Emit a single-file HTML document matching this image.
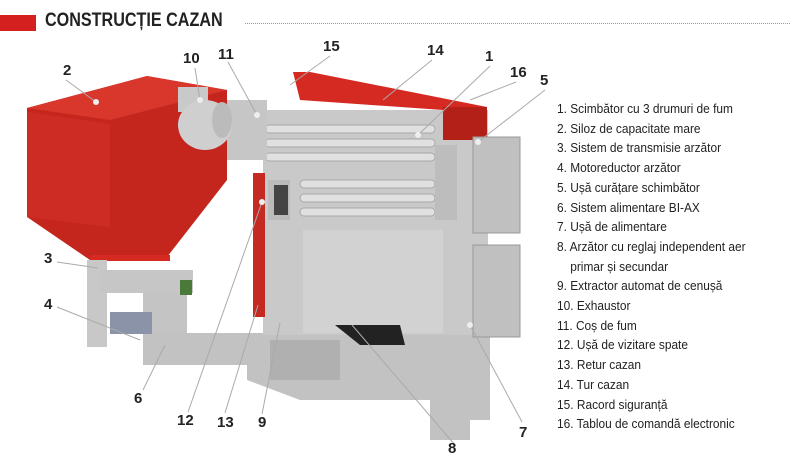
<!DOCTYPE html>
<html><head><meta charset="utf-8"><style>
body{margin:0;width:800px;height:449px;background:#fff;overflow:hidden;position:relative;font-family:"Liberation Sans",sans-serif}
.t{position:absolute;left:45px;top:10px;font-weight:bold;font-size:19px;color:#222;transform:scaleX(.85);transform-origin:left}
.list{position:absolute;left:557px;top:99px;font-size:12.8px;line-height:19.7px;color:#222;transform:scaleX(.93);transform-origin:left}
.n{position:absolute;font-weight:bold;font-size:15px;color:#222}
</style></head><body>
<div style="position:absolute;left:0;top:15px;width:36px;height:16px;background:#d52020"></div>
<div class="t">CONSTRUCȚIE CAZAN</div>
<div style="position:absolute;left:245px;top:23px;width:545px;border-top:1px dotted #999"></div>
<svg width="800" height="449" style="position:absolute;left:0;top:0">
<!-- boiler base -->
<polygon points="247,335 490,335 490,420 470,420 470,440 430,440 430,400 300,400 247,380" fill="#c2c2c2"/>
<!-- boiler body -->
<rect x="263" y="110" width="225" height="225" fill="#c9c9c9"/>
<polygon points="293,72 310,72 487,107 487,140 443,140 443,110 300,100" fill="#d42a22"/>
<polygon points="443,107 487,107 487,140 443,140" fill="#b32018"/>
<rect x="253" y="173" width="12" height="144" fill="#c42a22"/>
<rect x="268" y="180" width="22" height="40" fill="#bbb"/>
<rect x="274" y="185" width="14" height="30" fill="#444"/>
<rect x="303" y="230" width="140" height="103" fill="#d2d2d2"/>
<g fill="#e0e0e0" stroke="#a8a8a8">
<rect x="265" y="125" width="170" height="8" rx="4"/>
<rect x="265" y="139" width="170" height="8" rx="4"/>
<rect x="265" y="153" width="170" height="8" rx="4"/>
<rect x="300" y="180" width="135" height="8" rx="4"/>
<rect x="300" y="194" width="135" height="8" rx="4"/>
<rect x="300" y="208" width="135" height="8" rx="4"/>
</g>
<rect x="435" y="145" width="22" height="75" fill="#bdbdbd"/>
<rect x="473" y="137" width="47" height="96" fill="#c0c0c0" stroke="#999"/>
<rect x="473" y="245" width="47" height="92" fill="#c0c0c0" stroke="#999"/>
<rect x="270" y="340" width="70" height="40" fill="#b0b0b0"/>
<polygon points="335,325 400,325 405,345 360,345" fill="#222"/>
<!-- flue -->
<polygon points="227,100 267,100 267,160 227,160" fill="#c6c6c6"/>
<!-- hopper -->
<polygon points="27,108 147,76 227,90 227,180 167,257 90,260 27,217" fill="#c4261e"/>
<polygon points="27,108 147,76 227,90 110,120" fill="#d9362c"/>
<polygon points="27,112 110,124 110,227 27,217" fill="#cc2c24"/>
<rect x="90" y="255" width="80" height="6" fill="#d42a22"/>
<!-- exhaust -->
<rect x="178" y="87" width="30" height="25" fill="#c9c9c9"/>
<ellipse cx="205" cy="125" rx="27" ry="25" fill="#cfcfcf"/>
<ellipse cx="222" cy="120" rx="10" ry="18" fill="#bbb"/>
<!-- feeder -->
<rect x="87" y="260" width="20" height="87" fill="#c8c8c8"/>
<rect x="100" y="270" width="93" height="23" fill="#c6c6c6"/>
<rect x="143" y="293" width="44" height="50" fill="#c4c4c4"/>
<rect x="143" y="333" width="120" height="32" fill="#c2c2c2"/>
<rect x="110" y="312" width="42" height="22" fill="#8a93a8"/>
<rect x="180" y="280" width="12" height="15" fill="#4a7a3a"/>
<!-- leaders -->
<g stroke="#aaa" stroke-width="1" fill="none">
<path d="M66,80 L96,102"/><path d="M195,68 L200,100"/><path d="M228,62 L257,115"/>
<path d="M330,56 L290,85"/><path d="M432,60 L383,100"/><path d="M490,66 L418,135"/>
<path d="M516,82 L470,100"/><path d="M545,90 L478,142"/><path d="M57,262 L98,268"/>
<path d="M57,307 L140,340"/><path d="M143,390 L165,345"/><path d="M188,412 L262,202"/>
<path d="M225,413 L258,305"/><path d="M262,414 L280,323"/><path d="M522,422 L470,325"/>
<path d="M455,445 L352,325"/></g>
<g fill="#eee"><circle cx="96" cy="102" r="3"/><circle cx="200" cy="100" r="3"/><circle cx="257" cy="115" r="3"/><circle cx="418" cy="135" r="3"/><circle cx="478" cy="142" r="3"/><circle cx="470" cy="325" r="3"/><circle cx="262" cy="202" r="3"/></g>
</svg>
<div class="n" style="left:63px;top:62px">2</div>
<div class="n" style="left:183px;top:50px">10</div>
<div class="n" style="left:218px;top:46px">11</div>
<div class="n" style="left:323px;top:38px">15</div>
<div class="n" style="left:427px;top:42px">14</div>
<div class="n" style="left:485px;top:48px">1</div>
<div class="n" style="left:510px;top:64px">16</div>
<div class="n" style="left:540px;top:72px">5</div>
<div class="n" style="left:44px;top:250px">3</div>
<div class="n" style="left:44px;top:296px">4</div>
<div class="n" style="left:134px;top:390px">6</div>
<div class="n" style="left:177px;top:412px">12</div>
<div class="n" style="left:217px;top:414px">13</div>
<div class="n" style="left:258px;top:414px">9</div>
<div class="n" style="left:519px;top:424px">7</div>
<div class="n" style="left:448px;top:440px">8</div>
<div class="list">1. Scimbător cu 3 drumuri de fum<br>2. Siloz de capacitate mare<br>3. Sistem de transmisie arzător<br>4. Motoreductor arzător<br>5. Ușă curățare schimbător<br>6. Sistem alimentare BI-AX<br>7. Ușă de alimentare<br>8. Arzător cu reglaj independent aer<br>&nbsp;&nbsp;&nbsp;&nbsp;primar și secundar<br>9. Extractor automat de cenușă<br>10. Exhaustor<br>11. Coș de fum<br>12. Ușă de vizitare spate<br>13. Retur cazan<br>14. Tur cazan<br>15. Racord siguranță<br>16. Tablou de comandă electronic</div>
</body></html>
